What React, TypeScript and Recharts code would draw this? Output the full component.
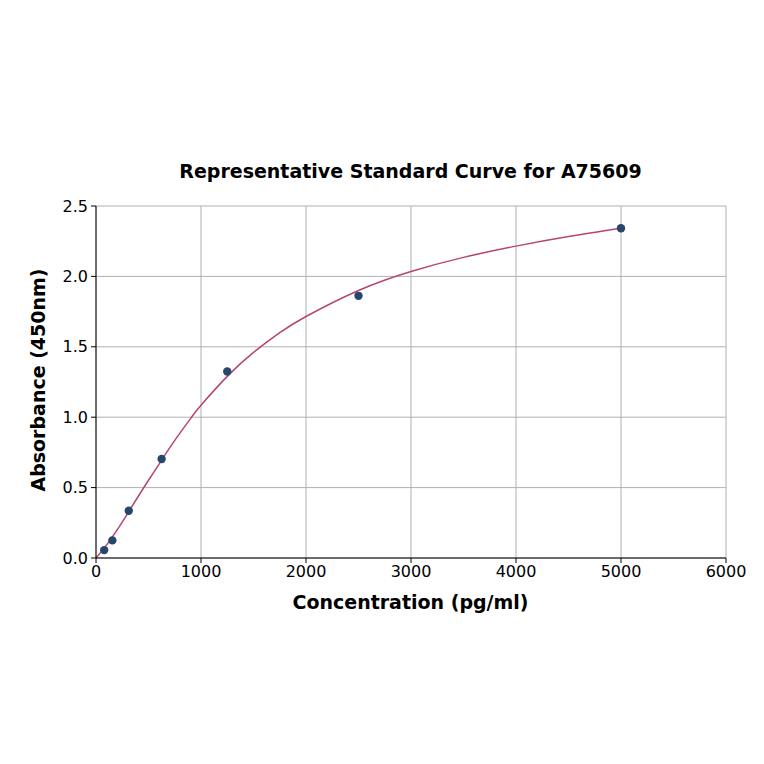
import React from "react";
import {
  ComposedChart,
  Line,
  Scatter,
  XAxis,
  YAxis,
  CartesianGrid,
} from "recharts";

// measured standards
const concentrations = [78, 156, 312, 625, 1250, 2500, 5000];
const absorbances = [0.056, 0.125, 0.336, 0.703, 1.325, 1.862, 2.342];

// fitted curve
const curveX = [0, 78, 156, 250, 312, 400, 500, 625, 750, 900, 1000, 1250, 1500, 1750, 2000, 2500, 3000, 3500, 4000, 4500, 5000];
const curveY = [0.0, 0.07, 0.15, 0.255, 0.33, 0.435, 0.552, 0.695, 0.835, 0.99, 1.085, 1.29, 1.46, 1.6, 1.715, 1.9, 2.035, 2.135, 2.215, 2.283, 2.342];

const xTicks = [0, 1000, 2000, 3000, 4000, 5000, 6000];
const yTicks = [0, 0.5, 1, 1.5, 2, 2.5];

const FONT = "'DejaVu Sans', sans-serif";
const LINE_COLOR = "#b6466d";
const DOT_COLOR = "#26466e";

const points = concentrations.map((c, i) => ({ x: c, y: absorbances[i] }));
const curve = curveX.map((c, i) => ({ x: c, y: curveY[i] }));

const tickStyle = { fontSize: 16, fill: "#000", fontFamily: FONT };

const labelStyle: React.CSSProperties = {
  position: "absolute",
  height: 20,
  lineHeight: "20px",
  textAlign: "center",
  fontSize: 19,
  fontWeight: "bold",
  whiteSpace: "nowrap",
};

export default function App() {
  return (
    <div
      style={{
        position: "absolute",
        left: 0,
        top: 0,
        width: 764,
        height: 764,
        background: "#fff",
        fontFamily: FONT,
      }}
    >
      <div style={{ ...labelStyle, left: 0, width: 821, top: 161 }}>
        Representative Standard Curve for A75609
      </div>
      <ComposedChart
        width={764}
        height={764}
        margin={{ top: 206, right: 38, bottom: 156, left: 46 }}
      >
        <CartesianGrid stroke="#b0b0b0" strokeWidth={1} />
        <XAxis
          dataKey="x"
          type="number"
          domain={[0, 6000]}
          ticks={xTicks}
          interval={0}
          tick={tickStyle}
          tickSize={5}
          tickMargin={3}
          axisLine={{ stroke: "#000" }}
          tickLine={{ stroke: "#000" }}
          height={50}
        />
        <XAxis
          xAxisId="top"
          orientation="top"
          type="number"
          domain={[0, 6000]}
          tick={false}
          tickLine={false}
          axisLine={{ stroke: "#000" }}
          height={0}
        />
        <YAxis
          dataKey="y"
          type="number"
          domain={[0, 2.5]}
          ticks={yTicks}
          interval={0}
          tickFormatter={(v: number) => v.toFixed(1)}
          tick={tickStyle}
          tickSize={5}
          tickMargin={3}
          axisLine={{ stroke: "#000" }}
          tickLine={{ stroke: "#000" }}
          width={50}
        />
        <YAxis
          yAxisId="right"
          orientation="right"
          type="number"
          domain={[0, 2.5]}
          tick={false}
          tickLine={false}
          axisLine={{ stroke: "#000" }}
          width={0}
        />
        <Line
          data={curve}
          dataKey="y"
          type="natural"
          stroke={LINE_COLOR}
          strokeWidth={1.5}
          dot={false}
          activeDot={false}
          isAnimationActive={false}
        />
        <Scatter
          data={points}
          dataKey="y"
          fill={DOT_COLOR}
          shape={(p: any) => <circle cx={p.cx} cy={p.cy} r={4.2} fill={DOT_COLOR} />}
          isAnimationActive={false}
        />
      </ComposedChart>
      <div style={{ ...labelStyle, left: 0, width: 821, top: 592 }}>
        Concentration (pg/ml)
      </div>
      <div
        style={{
          ...labelStyle,
          left: 38 - 150,
          top: 380 - 10,
          width: 300,
          transform: "rotate(-90deg)",
        }}
      >
        Absorbance (450nm)
      </div>
    </div>
  );
}
